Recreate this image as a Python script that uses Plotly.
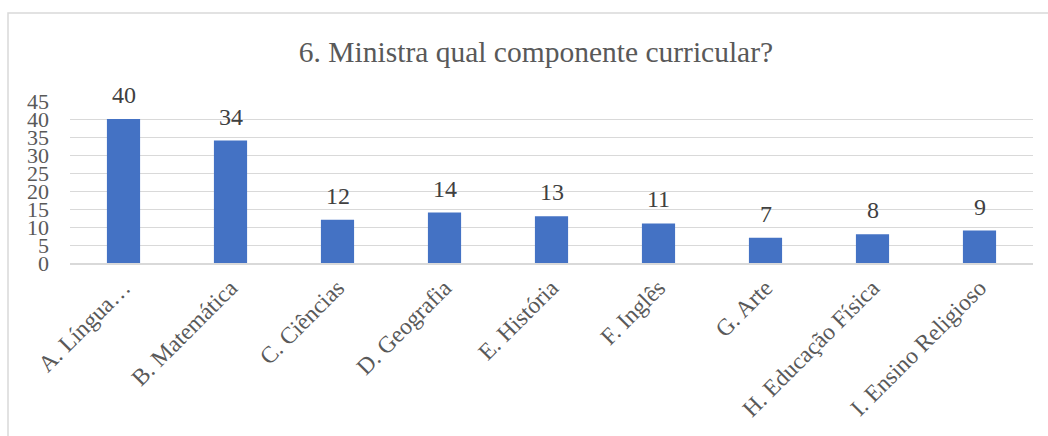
import plotly.graph_objects as go

categorias = ["A. Língua…", "B. Matemática", "C. Ciências", "D. Geografia", "E. História",
              "F. Inglês", "G. Arte", "H. Educação Física", "I. Ensino Religioso"]
valores = [40, 34, 12, 14, 13, 11, 7, 8, 9]
ticks_y = [0, 5, 10, 15, 20, 25, 30, 35, 40, 45]

fonte = "Liberation Serif, Times New Roman, serif"
cinza = "#595959"

fig = go.Figure()
fig.add_trace(go.Bar(
    x=categorias,
    y=valores,
    marker=dict(color="#4472C4", line=dict(width=0)),
    width=0.31,
    cliponaxis=False,
))

# rótulos de dados acima das barras
for c, v in zip(categorias, valores):
    fig.add_annotation(x=c, y=v, text=str(v), showarrow=False, yanchor="middle",
                       yshift=24, font=dict(family=fonte, size=24, color="#404040"))

W, H = 1048, 436
ml, mr, mt, mb = 70, 15, 101, 173
pw, ph = W - ml - mr, H - mt - mb

def px(x):
    return (x - ml) / pw

def py(y):
    return (H - mb - y) / ph

# contorno da área do gráfico
fig.add_shape(type="rect", xref="paper", yref="paper",
              x0=px(8), x1=px(1060), y0=py(460), y1=py(13),
              line=dict(color="#D9D9D9", width=1.5), fillcolor="rgba(0,0,0,0)")

fig.update_layout(
    width=W, height=H,
    margin=dict(l=ml, r=mr, t=mt, b=mb, autoexpand=False),
    paper_bgcolor="white", plot_bgcolor="white",
    showlegend=False,
    title=dict(text="6. Ministra qual componente curricular?", x=536 / W, xref="container",
               xanchor="center", y=1 - 52 / H, yanchor="middle",
               font=dict(family=fonte, size=29.5, color=cinza)),
    font=dict(family=fonte, color=cinza),
    xaxis=dict(tickangle=-45, tickfont=dict(family=fonte, size=23.5, color=cinza),
               showline=True, linecolor="#D9D9D9", linewidth=1.5, ticks="",
               showgrid=False, automargin=False, ticklabelshift=0),
    yaxis=dict(range=[0, 45], tickvals=ticks_y, showgrid=True, gridcolor="#D9D9D9",
               gridwidth=1, zeroline=False, ticks="", automargin=False,
               tickfont=dict(family=fonte, size=22, color=cinza), ticklabelstandoff=20),
)

fig.write_html("out.html", config={"displayModeBar": False},
               post_script="document.body.style.margin='0';")
